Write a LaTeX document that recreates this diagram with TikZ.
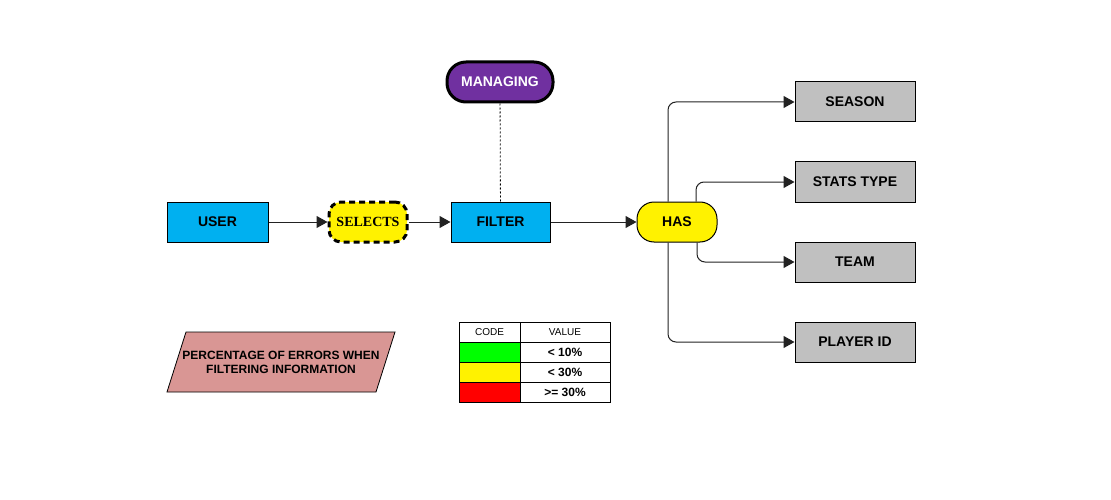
\documentclass[tikz,border=0pt]{standalone}
\usepackage{fontspec}
\setmainfont{Liberation Sans}
\newfontfamily\serifbf{Liberation Serif}
\usetikzlibrary{arrows.meta,calc}
\definecolor{cblue}{HTML}{00B0F0}
\definecolor{cgray}{HTML}{C0C0C0}
\definecolor{cpurple}{HTML}{7030A0}
\definecolor{cpink}{HTML}{D99694}
\definecolor{cline}{HTML}{222222}
\tikzset{
  box/.style={draw=black,line width=1pt,inner sep=0pt,minimum height=40pt,font=\fontsize{14}{16}\selectfont\bfseries},
  bluebox/.style={box,fill=cblue,minimum width=100pt},
  graybox/.style={box,fill=cgray,minimum width=120pt},
  arr/.style={draw=cline,line width=1pt,-{Triangle[length=11pt,width=12pt]},rounded corners=8pt},
  cell/.style={draw=black,line width=0.8pt,inner sep=0pt,minimum height=20pt},
}
\begin{document}
\begin{tikzpicture}[x=1pt,y=-1pt]
\useasboundingbox (0,0) rectangle (1111,500);
\fill[white] (0,0) rectangle (1111,500);
\node[bluebox,minimum width=101pt] (user) at (217.5,222) {USER};
\node[box,fill=yellow,minimum width=78pt,rounded corners=12pt,line width=3pt,dash pattern=on 6pt off 4pt,font=\fontsize{14}{16}\selectfont\serifbf\bfseries] (selects) at (368,222) {SELECTS};
\node[bluebox,minimum width=99pt] (filter) at (500.5,222) {FILTER};
\node[box,fill=cpurple,text=white,minimum width=106pt,rounded corners=19pt,line width=3pt] (managing) at (500,82) {MANAGING};
\node[box,fill=yellow,minimum width=80pt,rounded corners=17pt] (has) at (677,222) {HAS};
\node[graybox] (season) at (855,102) {SEASON};
\node[graybox] (stats) at (855,182) {STATS TYPE};
\node[graybox] (team) at (855,262) {TEAM};
\node[graybox] (player) at (855,342) {PLAYER ID};

\draw[arr] (user) -- (selects);
\draw[arr] (selects) -- (filter);
\draw[arr] (filter) -- (has);
\draw[draw=black,line width=0.8pt,dash pattern=on 2pt off 2pt] (managing) -- (filter);
\draw[arr] ([xshift=-9pt]has.north) |- (season.west);
\draw[arr] ([xshift=19pt]has.north) |- (stats.west);
\draw[arr] ([xshift=20pt]has.south) |- (team.west);
\draw[arr] ([xshift=-9pt]has.south) |- (player.west);

\draw[fill=cpink,line width=0.8pt] (186,332) -- (395,332) -- (376,392) -- (167,392) -- cycle;
\node[align=center,inner sep=0pt,font=\fontsize{12}{14}\selectfont\bfseries] (pct) at (281,362) {PERCENTAGE OF ERRORS WHEN\\FILTERING INFORMATION};

\node[cell,minimum width=61pt,font=\fontsize{10}{12}\selectfont] (code) at (489.5,332) {CODE};
\node[cell,minimum width=90pt,font=\fontsize{10}{12}\selectfont] (value) at (565,332) {VALUE};
\node[cell,minimum width=61pt,fill=green] (g) at (489.5,352) {};
\node[cell,minimum width=90pt,font=\fontsize{12}{14}\selectfont\bfseries] (v1) at (565,352) {\raisebox{-2pt}{< 10\%}};
\node[cell,minimum width=61pt,fill=yellow] (y) at (489.5,372) {};
\node[cell,minimum width=90pt,font=\fontsize{12}{14}\selectfont\bfseries] (v2) at (565,372) {\raisebox{-2pt}{< 30\%}};
\node[cell,minimum width=61pt,fill=red] (r) at (489.5,392) {};
\node[cell,minimum width=90pt,font=\fontsize{12}{14}\selectfont\bfseries] (v3) at (565,392) {\raisebox{-2pt}{>= 30\%}};
\end{tikzpicture}
\end{document}
